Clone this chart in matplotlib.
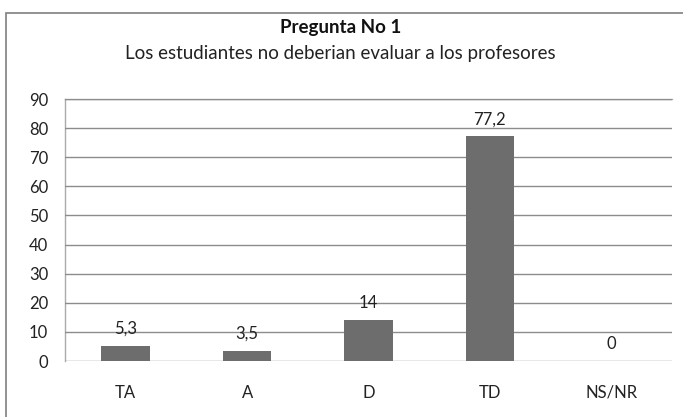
import matplotlib.pyplot as plt
from matplotlib.patches import Rectangle

categories = ["TA", "A", "D", "TD", "NS/NR"]
values = [5.3, 3.5, 14, 77.2, 0]
value_labels = ["5,3", "3,5", "14", "77,2", "0"]
yticks = list(range(0, 100, 10))

plt.rcParams['font.family'] = ['Lato', 'DejaVu Sans']

fig = plt.figure(figsize=(6.83, 4.17), dpi=100)
fig.patch.set_facecolor("white")

# chart frame
fig.patches.append(Rectangle((6 / 683, -0.01), 1.0, 1 - 13 / 417 + 0.01,
                             transform=fig.transFigure, fill=False,
                             edgecolor="#7f7f7f", linewidth=1.2))

ax = fig.add_axes([65 / 683, 1 - 361 / 417, (672 - 65) / 683, (361 - 99) / 417])
x = range(len(categories))
ax.bar(x, values, width=0.4, color="#6d6d6d", zorder=3)

for xi, v, lab in zip(x, values, value_labels):
    ax.annotate(lab, (xi, v), xytext=(0, 6.5), textcoords="offset points",
                ha="center", va="bottom", fontsize=12, color="#222222")

ax.set_xlim(-0.5, len(categories) - 0.5)
ax.set_ylim(0, 90)
ax.set_yticks(yticks)
ax.set_xticks(list(x))
ax.set_xticklabels(categories)
ax.yaxis.grid(True, color="#8c8c8c", linewidth=1.0, zorder=0)
for s in ["right", "bottom"]:
    ax.spines[s].set_visible(False)
for s in ["left", "top"]:
    ax.spines[s].set_color("#ababab")
    ax.spines[s].set_linewidth(1.0)
    ax.spines[s].set_zorder(1)
ax.tick_params(axis="both", length=0, labelsize=12, colors="#222222")
ax.tick_params(axis="x", pad=17)
ax.tick_params(axis="y", pad=12)

fig.text(0.498, 1 - 27 / 417, "Pregunta No 1", ha="center", va="center",
         fontsize=13.5, fontweight="bold", color="#111111")
fig.text(0.498, 1 - 53 / 417, "Los estudiantes no deberian evaluar a los profesores",
         ha="center", va="center", fontsize=13.5, color="#222222")

fig.savefig("out.png", dpi=100)
